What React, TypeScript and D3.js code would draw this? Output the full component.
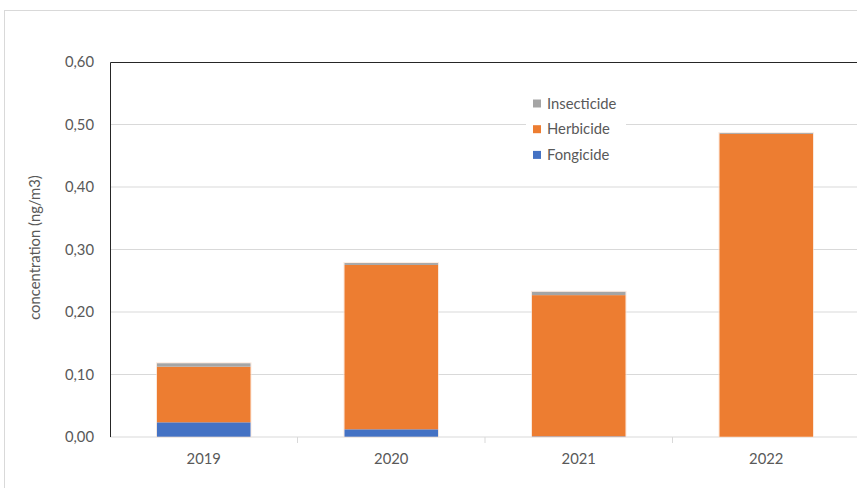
import React, { useEffect, useRef } from "react";
import * as d3 from "d3";

const years = ["2019", "2020", "2021", "2022"];
const fongicide = [0.0235, 0.0123, 0.001, 0.0];
const herbicide = [0.089, 0.263, 0.226, 0.485];
const insecticide = [0.0055, 0.003, 0.0055, 0.0015];
const seriesNames = ["Fongicide", "Herbicide", "Insecticide"];
const seriesColors = ["#4472C4", "#ED7D31", "#A5A5A5"];
const yTicks = [0, 0.1, 0.2, 0.3, 0.4, 0.5, 0.6];

export default function App() {
  const ref = useRef<SVGSVGElement>(null);
  useEffect(() => {
    const svg = d3.select(ref.current);
    svg.selectAll("*").remove();
    const W = 857, H = 488;
    const m = { left: 110, top: 62, right: 860, bottom: 437 };
    const font = "Lato, 'Open Sans', sans-serif";
    const fs = 14.8;
    const textColor = "#595959";

    // outer chart border
    svg.append("rect").attr("x", 4.5).attr("y", 10.5).attr("width", W + 20).attr("height", H + 20)
      .attr("fill", "white").attr("stroke", "#d9d9d9");

    const x = d3.scaleBand().domain(years).range([m.left, m.right]).paddingInner(0.5).paddingOuter(0.25);
    const band = d3.scaleBand().domain(years).range([m.left, m.right]);
    const y = d3.scaleLinear().domain([0, 0.6]).range([m.bottom, m.top]);

    // gridlines
    svg.append("g").selectAll("line").data(yTicks.slice(1, -1)).join("line")
      .attr("x1", m.left).attr("x2", m.right).attr("y1", d => y(d)).attr("y2", d => y(d))
      .attr("stroke", "#d9d9d9").attr("stroke-width", 1);

    // bottom axis
    svg.append("line").attr("x1", m.left).attr("x2", m.right).attr("y1", y(0)).attr("y2", y(0))
      .attr("stroke", "#d9d9d9");
    svg.append("g").selectAll("line").data(years.slice(1)).join("line")
      .attr("x1", d => band(d)!).attr("x2", d => band(d)!)
      .attr("y1", y(0)).attr("y2", y(0) + 6).attr("stroke", "#d9d9d9");

    // stacked bars
    const rows = years.map((yr, i) => ({ year: yr, Fongicide: fongicide[i], Herbicide: herbicide[i], Insecticide: insecticide[i] }));
    const stack = d3.stack<any>().keys(seriesNames)(rows);
    stack.forEach((s, si) => {
      svg.append("g").selectAll("rect").data(s).join("rect")
        .attr("x", d => x(d.data.year)!)
        .attr("width", x.bandwidth())
        .attr("y", d => y(d[1]))
        .attr("height", d => Math.max(0, y(d[0]) - y(d[1])))
        .attr("fill", seriesColors[si]);
    });
    // thin light outlines around full bars
    svg.append("g").selectAll("rect").data(rows).join("rect")
      .attr("x", d => x(d.year)! - 0.5).attr("width", x.bandwidth() + 1)
      .attr("y", d => y(d.Fongicide + d.Herbicide + d.Insecticide) - 0.5)
      .attr("height", d => y(0) - y(d.Fongicide + d.Herbicide + d.Insecticide) + 0.5)
      .attr("fill", "none").attr("stroke", "#fbe3d3").attr("stroke-width", 0.6);

    // plot border top & left
    svg.append("path")
      .attr("d", `M${m.left + 0.5},${m.bottom}V${m.top + 0.5}H${m.right}`)
      .attr("fill", "none").attr("stroke", "#262626").attr("stroke-width", 1);

    // y tick labels
    svg.append("g").selectAll("text").data(yTicks).join("text")
      .attr("x", 94).attr("y", d => y(d)).attr("dy", "0.35em")
      .attr("text-anchor", "end").attr("font-family", font).attr("font-size", fs)
      .attr("fill", textColor).text(d => d3.format(".2f")(d).replace(".", ","));

    // x labels
    svg.append("g").selectAll("text").data(years).join("text")
      .attr("x", d => band(d)! + band.bandwidth() / 2).attr("y", 464)
      .attr("text-anchor", "middle").attr("font-family", font).attr("font-size", fs)
      .attr("fill", textColor).text(d => d);

    // y axis title
    svg.append("text").attr("transform", `translate(40,${(m.top + m.bottom) / 2 - 2}) rotate(-90)`)
      .attr("text-anchor", "middle").attr("font-family", font).attr("font-size", fs)
      .attr("fill", textColor).text("concentration (ng/m3)");

    // legend
    const lg = svg.append("g");
    lg.append("rect").attr("x", 526).attr("y", 92).attr("width", 100).attr("height", 72).attr("fill", "white");
    const legendOrder = [2, 1, 0];
    legendOrder.forEach((si, k) => {
      const cy = 103.5 + k * 25.7;
      lg.append("rect").attr("x", 533).attr("y", cy - 4).attr("width", 8).attr("height", 8).attr("fill", seriesColors[si]);
      lg.append("text").attr("x", 547).attr("y", cy).attr("dy", "0.35em")
        .attr("font-family", font).attr("font-size", fs).attr("fill", textColor).text(seriesNames[si]);
    });
  }, []);
  return (
    <svg ref={ref} width={857} height={488}
      style={{ position: "absolute", left: 0, top: 0, background: "white" }} />
  );
}
